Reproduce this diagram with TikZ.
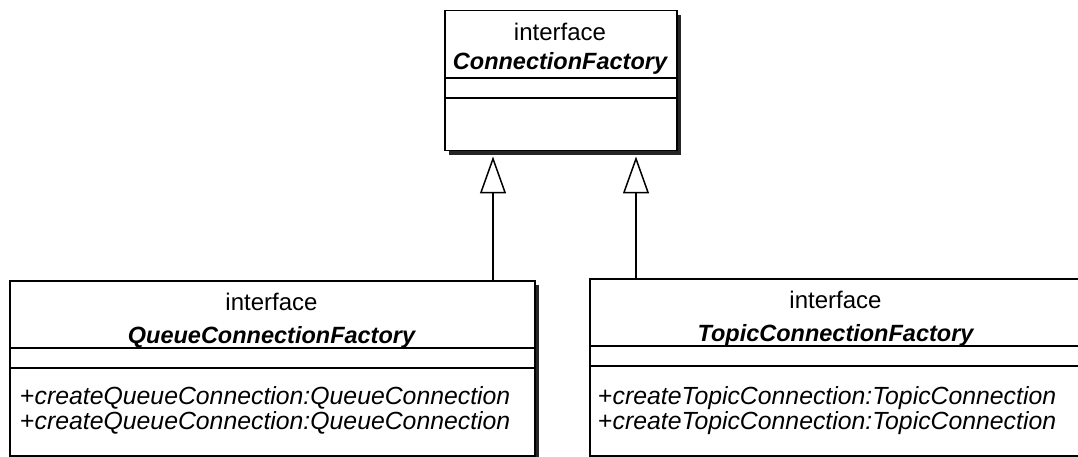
\documentclass[tikz,border=0pt]{standalone}
\usepackage{fontspec}
\setmainfont{Liberation Sans}
\usetikzlibrary{arrows.meta}
\begin{document}
\begin{tikzpicture}[x=1pt,y=-1pt,
 cls/.style={draw, line width=1.5pt, fill=white, anchor=north west, inner sep=0pt},
 shadowbox/.style={fill=black!85},
 lbl/.style={font=\fontsize{24}{28}\selectfont, inner sep=0pt},
 ttl/.style={font=\fontsize{23.5}{28}\selectfont\bfseries\itshape, inner sep=0pt},
 mth/.style={font=\fontsize{24.8}{28}\selectfont, inner sep=0pt, anchor=west},
 sep/.style={line width=1.5pt},
 inh/.style={line width=1.5pt, -{Triangle[open, length=37pt, width=26pt, line width=1.5pt]}, shorten >=5pt}
]
\useasboundingbox[fill=white] (0,0) rectangle (1078,457);
% top class
\fill[shadowbox] (449,15) rectangle (681,155);
\node[cls, minimum width=232pt, minimum height=140pt] (cf) at (444,10) {};
\node[lbl] (cfs) at (560,32) {interface};
\node[ttl] (cfn) at (560,63) {ConnectionFactory};
\draw[sep] (444,78) -- (676,78);
\draw[sep] (444,98) -- (676,98);
% left class
\fill[shadowbox] (14,285) rectangle (539,460);
\node[cls, minimum width=525pt, minimum height=175pt] (qcf) at (9,280) {};
\node[lbl] (qs) at (271.5,302) {interface};
\node[ttl] (qn) at (271.5,337) {QueueConnectionFactory};
\draw[sep] (9,348) -- (534,348);
\draw[sep] (9,368) -- (534,368);
\node[mth] (qm1) at (20,398) {+\textit{createQueueConnection:QueueConnection}};
\node[mth] (qm2) at (20,423) {+\textit{createQueueConnection:QueueConnection}};
% right class
\fill[shadowbox] (594,283) rectangle (1087,460);
\node[cls, minimum width=493pt, minimum height=177pt] (tcf) at (589,278) {};
\node[lbl] (ts) at (835.5,300) {interface};
\node[ttl] (tn) at (835.5,335) {TopicConnectionFactory};
\draw[sep] (589,346) -- (1082,346);
\draw[sep] (589,366) -- (1082,366);
\node[mth] (tm1) at (598,398) {+\textit{createTopicConnection:TopicConnection}};
\node[mth] (tm2) at (598,423) {+\textit{createTopicConnection:TopicConnection}};
% generalizations
\coordinate (xl) at (493,0);
\coordinate (xr) at (636,0);
\draw[inh] (qcf.north -| xl) -- (cf.south -| xl);
\draw[inh] (tcf.north -| xr) -- (cf.south -| xr);
\end{tikzpicture}
\end{document}
